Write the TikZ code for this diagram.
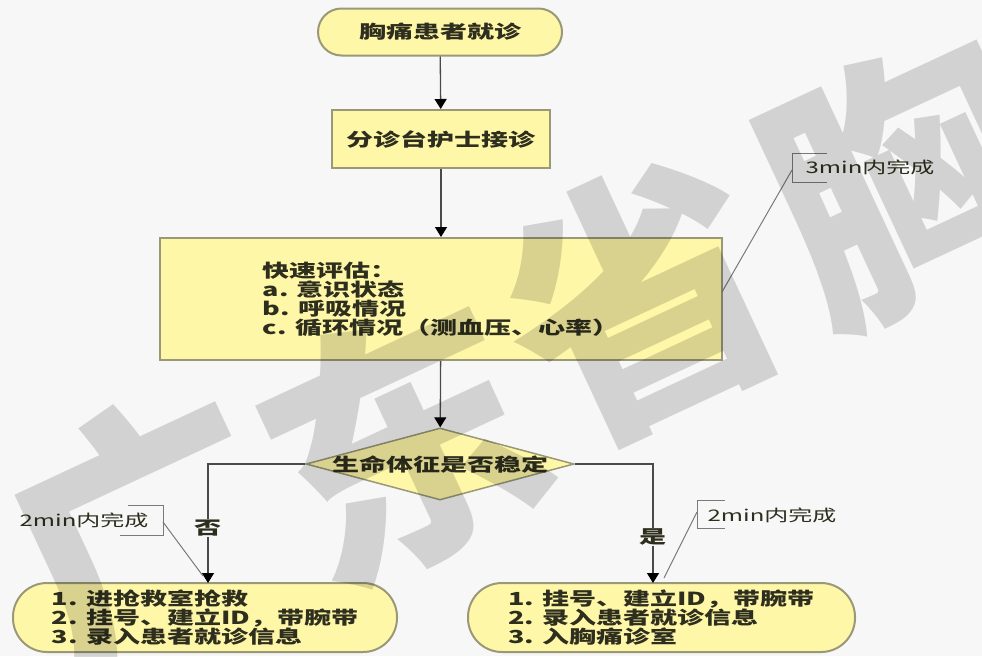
\documentclass[tikz,border=0pt]{standalone}
\usepackage{fontspec}
\newfontfamily\cjk[FakeStretch=1.5]{Noto Sans CJK SC}
\newfontfamily\cjkwm{Noto Sans CJK SC}
\usetikzlibrary{arrows.meta,shapes.geometric}
\definecolor{bgcol}{HTML}{F7F7F7}
\definecolor{boxfill}{HTML}{FFF7A8}
\definecolor{boxline}{HTML}{9A9876}
\definecolor{linecol}{HTML}{4A4A4A}
\definecolor{notecol}{HTML}{7A7A7A}
\definecolor{txtcol}{HTML}{2E2E1E}
\begin{document}
\begin{tikzpicture}[x=1pt,y=-1pt,
  maintext/.style={font=\cjk\bfseries\fontsize{18}{19}\selectfont, text=txtcol},
  box/.style={draw=boxline, fill=boxfill, line width=2pt, inner sep=0pt, maintext},
  termbox/.style={box, rectangle, rounded corners=#1},
  rectbox/.style={box, rectangle},
  decbox/.style={box, diamond, draw=boxline, line width=1.5pt},
  conn/.style={draw=linecol, line width=1.3pt, -{Triangle[width=12pt,length=10pt,color=black]}},
  notetext/.style={font=\cjk\fontsize{16}{17}\selectfont, text=txtcol, inner sep=0pt},
  notebr/.style={draw=notecol, line width=1pt},
  branchlbl/.style={maintext, fill=bgcol, inner sep=1pt},
  wm/.style={font=\cjkwm\bfseries\fontsize{270}{270}\selectfont, text=black, text opacity=0.15, rotate=25, inner sep=0pt}
]
\useasboundingbox (0,0) rectangle (982,656);
\fill[bgcol] (0,0) rectangle (982,656);

% nodes
\node[termbox=23.5pt, minimum width=244pt, minimum height=47pt] (start) at (440,32) {胸痛患者就诊};
\node[rectbox, minimum width=218pt, minimum height=58pt] (triage) at (441,139) {分诊台护士接诊};
\node[rectbox, minimum width=562pt, minimum height=122pt, align=left] (assess) at (441,299)
  {快速评估：\\a. 意识状态\\b. 呼吸情况\\c. 循环情况（测血压、心率）};
\node[decbox, minimum width=268pt, minimum height=72pt] (dec) at (440,464) {};
\node[maintext, inner sep=0pt] (dectext) at (dec.center) {生命体征是否稳定};
\node[termbox=34pt, minimum width=384pt, minimum height=69pt, align=left] (left) at (205,617.5)
  {1. 进抢救室抢救\\2. 挂号、建立ID，带腕带\\3. 录入患者就诊信息};
\node[termbox=34pt, minimum width=387pt, minimum height=69pt, align=left] (right) at (661.5,617.5)
  {1. 挂号、建立ID，带腕带\\2. 录入患者就诊信息\\3. 入胸痛诊室};

\coordinate (lin) at (208,583);
\coordinate (rin) at (653,583);

% connectors
\draw[conn] (start) -- (triage);
\draw[conn] (triage) -- (assess);
\draw[conn] (assess) -- (dec);
\draw[conn] (dec.west) -| (lin);
\draw[conn] (dec.east) -| (rin);
\node[branchlbl] (no) at (208,528) {否};
\node[branchlbl] (yes) at (653,537) {是};

% annotations
\node[notetext] (n3) at (870,167) {3min内完成};
\coordinate (b3a) at (827,153);
\coordinate (b3b) at (792,153);
\coordinate (b3c) at (792,182);
\coordinate (b3d) at (827,182);
\coordinate (b3m) at (792,170);
\coordinate (a3) at (722,292);
\draw[notebr] (b3a) -- (b3b) -- (b3c) -- (b3d);
\draw[notebr] (b3m) -- (a3);

\node[notetext] (n2l) at (84,520) {2min内完成};
\coordinate (bla) at (128,505);
\coordinate (blb) at (163,505);
\coordinate (blc) at (163,535);
\coordinate (bld) at (120,535);
\coordinate (blm) at (163,522);
\coordinate (al) at (203,576);
\draw[notebr] (bla) -- (blb) -- (blc) -- (bld);
\draw[notebr] (blm) -- (al);

\node[notetext] (n2r) at (772,515) {2min内完成};
\coordinate (bra) at (725,500);
\coordinate (brb) at (697,500);
\coordinate (brc) at (697,528);
\coordinate (brd) at (725,528);
\coordinate (brm) at (697,512);
\coordinate (ar) at (664,578);
\draw[notebr] (bra) -- (brb) -- (brc) -- (brd);
\draw[notebr] (brm) -- (ar);

% watermark
\node[wm] (wm1) at (145,535) {广};
\node[wm] (wm2) at (400,440) {东};
\node[wm] (wm3) at (640,300) {省};
\node[wm] (wm4) at (905,180) {胸};
\end{tikzpicture}
\end{document}
